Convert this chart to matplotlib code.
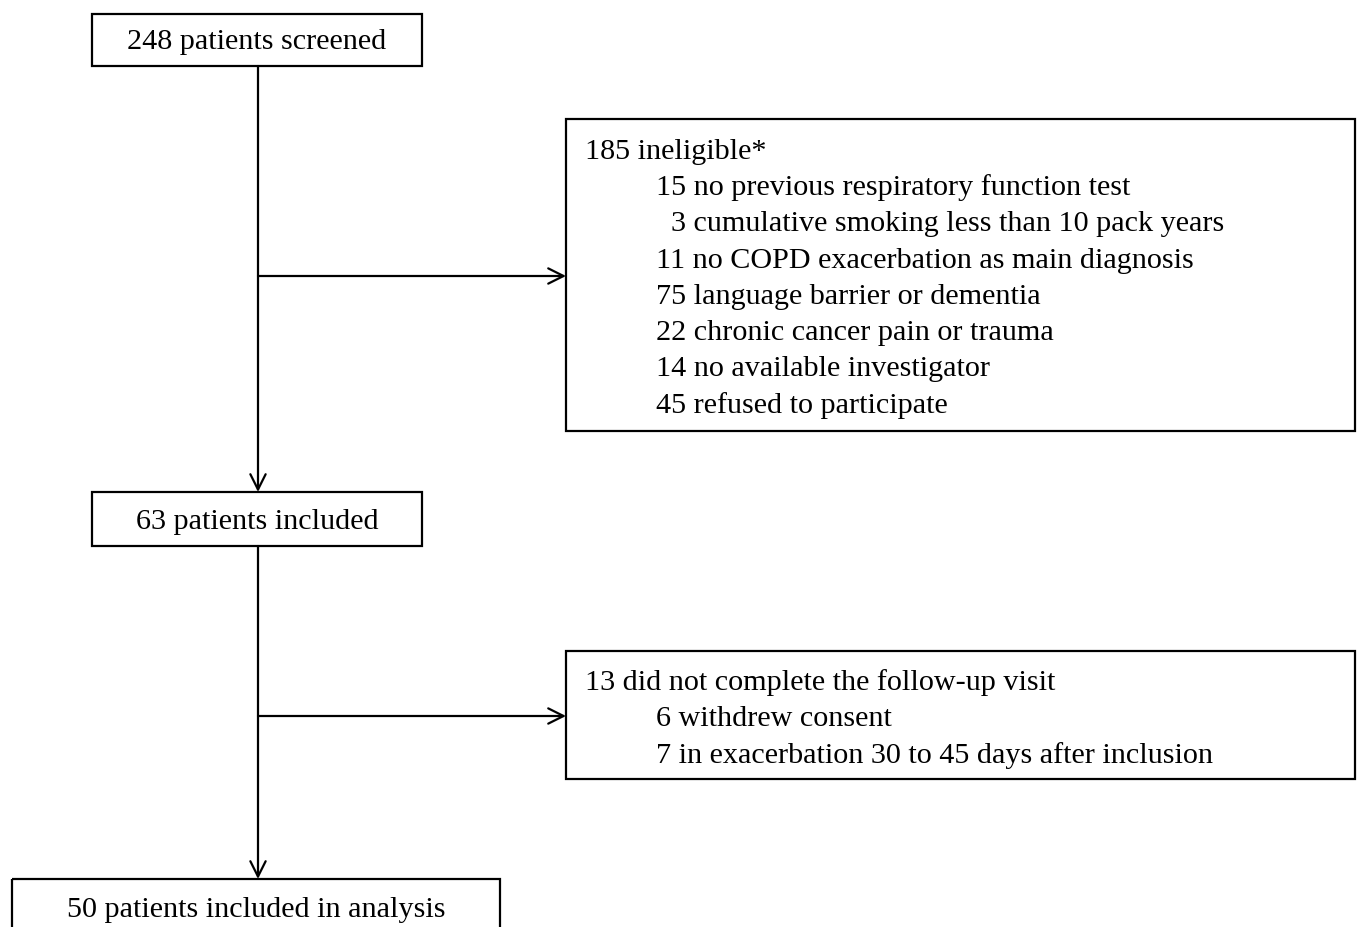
import matplotlib
matplotlib.use("Agg")
import matplotlib.pyplot as plt
from matplotlib.patches import Rectangle

plt.rcParams["font.family"] = ["Liberation Serif", "DejaVu Serif"]

# main flow boxes
main_labels = ["248 patients screened", "63 patients included", "50 patients included in analysis"]

# exclusion boxes
excl_titles = ["185 ineligible*", "13 did not complete the follow-up visit"]
ineligible_counts = ["15", "3", "11", "75", "22", "14", "45"]
ineligible_reasons = [
    "no previous respiratory function test",
    "cumulative smoking less than 10 pack years",
    "no COPD exacerbation as main diagnosis",
    "language barrier or dementia",
    "chronic cancer pain or trauma",
    "no available investigator",
    "refused to participate",
]
followup_counts = ["6", "7"]
followup_reasons = ["withdrew consent", "in exacerbation 30 to 45 days after inclusion"]

W, H = 1357, 927
fig = plt.figure(figsize=(W / 100, H / 100), dpi=100)
ax = fig.add_axes([0, 0, 1, 1])
ax.set_xlim(0, W)
ax.set_ylim(H, 0)
ax.axis("off")

lw = 1.6
fs = 21.7

def box(x0, y0, x1, y1):
    ax.add_patch(Rectangle((x0, y0), x1 - x0, y1 - y0, fill=False, ec="black", lw=lw))

def arrow(x0, y0, x1, y1):
    ax.annotate("", xy=(x1, y1), xytext=(x0, y0),
                arrowprops=dict(arrowstyle="->,head_length=1.1,head_width=0.55",
                                color="black", lw=lw, shrinkA=0, shrinkB=0))

# main boxes
main_boxes = [(92, 14, 422, 66), (92, 492, 422, 546), (12, 879, 500, 940)]
for (x0, y0, x1, y1), lab, ty in zip(main_boxes, main_labels, [42, 522, 910]):
    box(x0, y0, x1, y1)
    ax.text((x0 + x1) / 2, ty, lab, ha="center", va="center", fontsize=fs)

# vertical arrows
cx = 258
arrow(cx, 66, cx, 492)
arrow(cx, 546, cx, 879)

# side arrows
arrow(cx, 276, 566, 276)
arrow(cx, 716, 566, 716)

# exclusion boxes
box(566, 119, 1355, 431)
box(566, 651, 1355, 779)

step = 36.3
ax.text(585, 152, excl_titles[0], ha="left", va="center", fontsize=fs)
for i, (n, r) in enumerate(zip(ineligible_counts, ineligible_reasons)):
    xn = 656 if len(n) > 1 else 671
    ax.text(xn, 188 + i * step, f"{n} {r}", ha="left", va="center", fontsize=fs)

ax.text(585, 683, excl_titles[1], ha="left", va="center", fontsize=fs)
for i, (n, r) in enumerate(zip(followup_counts, followup_reasons)):
    ax.text(656, 719 + i * step, f"{n} {r}", ha="left", va="center", fontsize=fs)

fig.savefig("out.png", dpi=100, facecolor="white")
